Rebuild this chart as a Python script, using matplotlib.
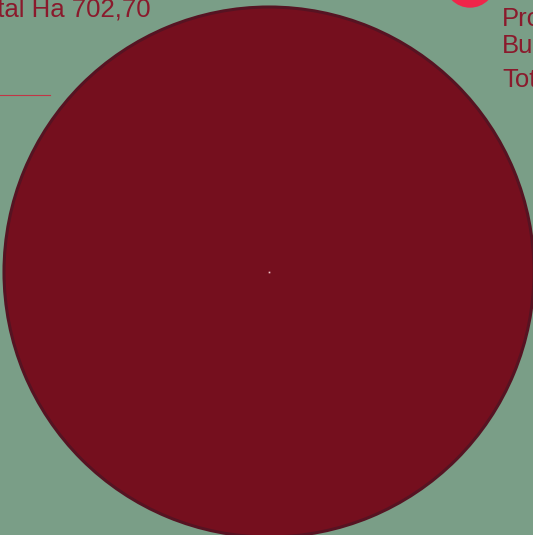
import matplotlib.pyplot as plt

# Datos
categorias = ['Total Ha']
hectareas = [702.70]
leyenda = ['Pro', 'Bu', 'Tot']
titulo = 'Total Ha 702,70'

fondo = '#7a9e87'
rojo_oscuro = '#750f1e'
rojo_texto = '#8a1a2c'

fig = plt.figure(figsize=(5.33, 5.35), dpi=100)
fig.patch.set_facecolor(fondo)
ax = fig.add_axes([0, 0, 1, 1])
ax.set_facecolor(fondo)

# Circulo (una sola porcion)
ax.pie(hectareas, radius=265, center=(269, 272), colors=[rojo_oscuro],
       wedgeprops=dict(edgecolor='#561322', linewidth=2.2), startangle=90)

# punto central
ax.plot([269], [271.5], marker='s', ms=1.2, color='#f0c8cc', mec='none')

ax.set_xlim(0, 533)
ax.set_ylim(535, 0)
ax.set_aspect('auto')
ax.axis('off')

# Titulo cortado
ax.text(-30, 16, titulo, fontsize=18.5, family='Liberation Sans',
        color=rojo_texto, va='baseline', ha='left')
ax.plot([0, 50], [95, 95], color='#c23545', lw=0.8)

# Leyenda cortada
ax.add_patch(plt.Circle((470, -18), 25, color='#f0254a', zorder=3))
ax.text(502, 26, leyenda[0], fontsize=18.5, family='Liberation Sans', color=rojo_texto, va='baseline')
ax.text(502, 53, leyenda[1], fontsize=18.5, family='Liberation Sans', color=rojo_texto, va='baseline')
ax.text(502, 87, leyenda[2], fontsize=18.5, family='Liberation Sans', color=rojo_texto, va='baseline')

plt.savefig('out.png', dpi=100, facecolor=fondo)
